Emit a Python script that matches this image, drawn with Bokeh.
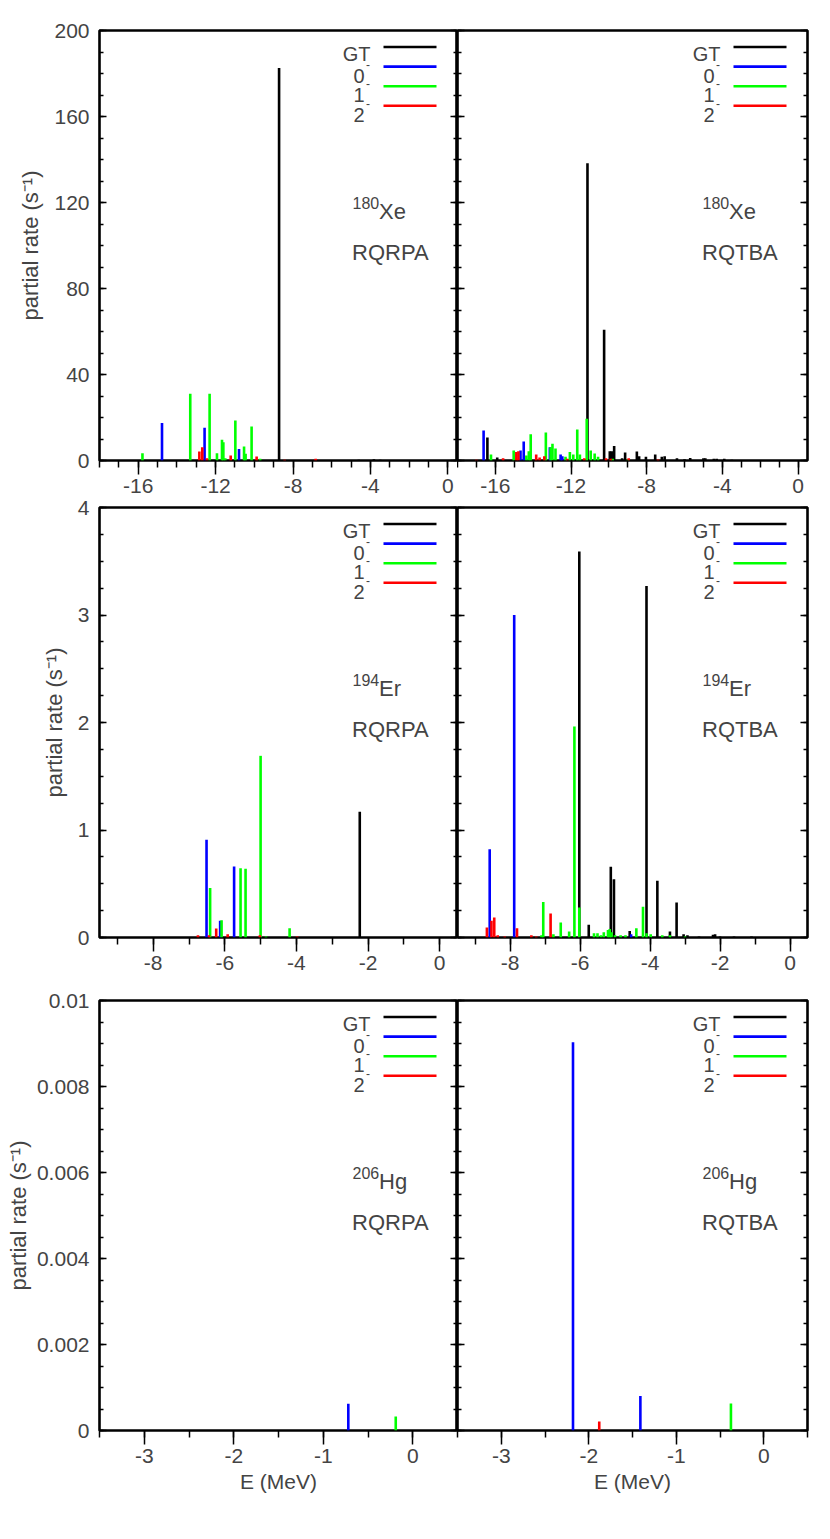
from bokeh.plotting import figure
from bokeh.layouts import column, row
from bokeh.models import FixedTicker, LinearAxis, Label, Range1d, ColumnDataSource
from bokeh.embed import file_html
from bokeh.resources import INLINE

FONT = "Liberation Sans"

# ---------------- data: 180Xe ----------------
xe_qrpa_gt_E = [-8.72, -4.6, -3.82, -3.5]
xe_qrpa_gt_R = [182.6, 0.3, 0.6, 0.3]
xe_qrpa_0_E = [-14.77, -12.57, -10.79]
xe_qrpa_0_R = [17.4, 15.2, 5.4]
xe_qrpa_1_E = [-15.78, -13.31, -12.31, -11.93, -11.67, -11.6, -11.5, -10.98, -10.53, -10.45, -10.14, -9.7]
xe_qrpa_1_R = [3.4, 31.0, 31.0, 3.4, 9.6, 8.5, 1.0, 18.6, 6.5, 3.1, 15.8, 0.8]
xe_qrpa_2_E = [-12.84, -12.69, -12.45, -11.22, -9.88, -8.43, -6.83]
xe_qrpa_2_R = [4.2, 6.2, 1.1, 2.3, 1.9, 0.3, 0.8]

xe_qtba_gt_E = [-16.42, -15.9, -11.13, -10.25, -9.95, -9.85, -9.72, -9.3, -9.14, -8.52, -8.4,
                -8.04, -7.55, -7.2, -7.05, -6.4, -6.0, -5.7, -5.0, -4.9, -4.45, -4.3, -3.9, -3.5]
xe_qtba_gt_R = [10.7, 1.4, 138.3, 60.8, 4.3, 4.3, 6.8, 1.0, 3.7, 4.2, 2.0,
                1.7, 2.8, 1.8, 2.0, 1.0, 0.6, 1.2, 1.0, 1.0, 0.8, 0.8, 0.8, 0.4]
xe_qtba_0_E = [-16.62, -14.67, -14.5, -13.12, -12.55, -12.46]
xe_qtba_0_R = [14.0, 4.6, 8.8, 6.2, 2.8, 2.0]
xe_qtba_1_E = [-16.23, -15.03, -14.36, -14.23, -14.13, -13.33, -13.08, -12.98, -12.82, -12.29,
               -12.06, -11.88, -11.67, -11.53, -11.17, -10.96, -10.75, -10.57, -9.8, -9.0]
xe_qtba_1_R = [2.8, 4.6, 2.3, 4.3, 12.2, 13.0, 6.2, 7.8, 5.6, 1.7,
               4.0, 2.8, 14.4, 2.8, 19.4, 4.6, 3.2, 1.7, 0.8, 0.5]
xe_qtba_2_E = [-17.0, -15.59, -14.89, -14.78, -13.84, -13.66, -13.41, -12.2, -11.3, -10.15, -9.9, -8.95, -7.4]
xe_qtba_2_R = [0.3, 1.0, 3.9, 4.3, 2.8, 1.4, 2.0, 0.8, 1.0, 1.0, 0.8, 1.0, 0.5]

# ---------------- data: 194Er ----------------
er_qrpa_gt_E = [-2.23]
er_qrpa_gt_R = [1.17]
er_qrpa_0_E = [-6.51, -6.13, -5.74]
er_qrpa_0_R = [0.91, 0.155, 0.66]
er_qrpa_1_E = [-6.41, -6.09, -5.56, -5.42, -5.0, -4.85, -4.19]
er_qrpa_1_R = [0.46, 0.16, 0.645, 0.64, 1.69, 0.01, 0.087]
er_qrpa_2_E = [-6.75, -6.44, -6.24, -5.92, -5.02, -3.98]
er_qrpa_2_R = [0.02, 0.02, 0.084, 0.03, 0.02, 0.01]

er_qtba_gt_E = [-6.02, -5.75, -5.12, -5.03, -4.58, -4.1, -3.79, -3.43, -3.24, -3.04, -2.93,
                -2.6, -2.2, -2.14, -2.0, -1.6, -1.1]
er_qtba_gt_R = [3.59, 0.118, 0.658, 0.543, 0.06, 3.27, 0.527, 0.056, 0.326, 0.03, 0.02,
                0.01, 0.025, 0.03, 0.01, 0.01, 0.01]
er_qtba_0_E = [-8.58, -7.88, -4.54]
er_qtba_0_R = [0.82, 3.0, 0.03]
er_qtba_1_E = [-7.1, -7.05, -6.76, -6.55, -6.31, -6.16, -6.02, -5.6, -5.5, -5.4, -5.32, -5.2,
               -5.15, -5.1, -5.0, -4.84, -4.7, -4.39, -4.2, -4.1, -3.98, -3.65, -3.43, -3.0]
er_qtba_1_R = [0.02, 0.33, 0.03, 0.14, 0.056, 1.963, 0.28, 0.04, 0.04, 0.02, 0.05, 0.07,
               0.08, 0.05, 0.02, 0.02, 0.02, 0.087, 0.286, 0.04, 0.03, 0.02, 0.02, 0.01]
er_qtba_2_E = [-8.66, -8.53, -8.45, -8.35, -8.15, -7.8, -7.39, -7.25, -6.84]
er_qtba_2_R = [0.093, 0.155, 0.186, 0.02, 0.01, 0.087, 0.02, 0.01, 0.224]

# ---------------- data: 206Hg ----------------
hg_qrpa_gt_E, hg_qrpa_gt_R = [], []
hg_qrpa_0_E, hg_qrpa_0_R = [-0.72], [0.00062]
hg_qrpa_1_E, hg_qrpa_1_R = [-0.19], [0.000325]
hg_qrpa_2_E, hg_qrpa_2_R = [], []

hg_qtba_gt_E, hg_qtba_gt_R = [], []
hg_qtba_0_E, hg_qtba_0_R = [-2.18, -1.41], [0.00903, 0.0008]
hg_qtba_1_E, hg_qtba_1_R = [-0.375], [0.00063]
hg_qtba_2_E, hg_qtba_2_R = [-1.88], [0.00021]

# ---------------- axes definitions ----------------
legend_labels = ["GT", "0", "1", "2"]
series_colors = ["#000000", "#0000ff", "#00ff00", "#ff0000"]

row1_xrange = (-18, 0.5)
row1_xmajor = [-16, -12, -8, -4, 0]
row1_xminor = [-18, -17, -16, -15, -14, -13, -12, -11, -10, -9, -8, -7, -6, -5, -4, -3, -2, -1, 0]
row1_yrange = (0, 200)
row1_ymajor = [0, 40, 80, 120, 160, 200]
row1_ymajor_labels = ["0", "40", "80", "120", "160", "200"]
row1_yminor = [0, 10, 20, 30, 40, 50, 60, 70, 80, 90, 100, 110, 120, 130, 140, 150, 160, 170, 180, 190, 200]

row2_xrange = (-9.5, 0.5)
row2_xmajor = [-8, -6, -4, -2, 0]
row2_xminor = [-9, -8, -7, -6, -5, -4, -3, -2, -1, 0]
row2_yrange = (0, 4)
row2_ymajor = [0, 1, 2, 3, 4]
row2_ymajor_labels = ["0", "1", "2", "3", "4"]
row2_yminor = [0, 0.25, 0.5, 0.75, 1, 1.25, 1.5, 1.75, 2, 2.25, 2.5, 2.75, 3, 3.25, 3.5, 3.75, 4]

row3_xrange = (-3.5, 0.5)
row3_xmajor = [-3, -2, -1, 0]
row3_xminor = [-3.5, -3, -2.5, -2, -1.5, -1, -0.5, 0, 0.5]
row3_yrange = (0, 0.01)
row3_ymajor = [0, 0.002, 0.004, 0.006, 0.008, 0.01]
row3_ymajor_labels = ["0", "0.002", "0.004", "0.006", "0.008", "0.01"]
row3_yminor = [0, 0.0005, 0.001, 0.0015, 0.002, 0.0025, 0.003, 0.0035, 0.004, 0.0045, 0.005,
               0.0055, 0.006, 0.0065, 0.007, 0.0075, 0.008, 0.0085, 0.009, 0.0095, 0.01]

FH = 430
FW_L = 358
FW_R = 350
OVERLAP = 12
TICK_FS = "21px"


def hidden_axis(ticker):
    ax = LinearAxis(ticker=ticker)
    ax.major_tick_in = 7
    ax.major_tick_out = 0
    ax.minor_tick_in = 4
    ax.minor_tick_out = 0
    ax.major_tick_line_width = 1.5
    ax.minor_tick_line_width = 1.5
    ax.axis_line_color = None
    ax.major_label_text_font_size = "1px"
    ax.major_label_text_color = None
    ax.major_label_standoff = 0
    return ax


def make_panel(series, xr, xmaj, xmin, yr, ymaj, ymaj_lab, ymin, is_left, is_bottom,
               mass, sym, method, b_top, b_bottom):
    fw = FW_L if is_left else FW_R
    p = figure(frame_width=fw, frame_height=FH,
               x_range=Range1d(*xr), y_range=Range1d(*yr),
               x_axis_location=None, y_axis_location=None,
               output_backend="svg", toolbar_location=None,
               min_border_left=99 if is_left else 0,
               min_border_right=0 if is_left else 14,
               min_border_top=b_top, min_border_bottom=b_bottom)
    p.outline_line_color = "black"
    p.outline_line_width = 2.6
    p.outline_line_alpha = 1.0
    p.background_fill_color = "white"
    p.border_fill_color = None
    p.grid.visible = False

    # bottom axis
    xb = LinearAxis(ticker=FixedTicker(ticks=xmaj, minor_ticks=xmin))
    xb.major_tick_out = 14
    xb.major_tick_in = 0
    xb.minor_tick_out = 7
    xb.minor_tick_in = 0
    xb.major_tick_line_width = 1.5
    xb.minor_tick_line_width = 1.5
    xb.axis_line_color = None
    xb.major_label_text_font = FONT
    xb.major_label_text_font_size = TICK_FS
    xb.major_label_standoff = 4
    xb.major_label_overrides = {v: str(v) for v in xmaj}
    if is_bottom:
        xb.axis_label = "E (MeV)"
        xb.axis_label_text_font = FONT
        xb.axis_label_text_font_size = "21px"
        xb.axis_label_text_font_style = "normal"
        xb.axis_label_standoff = 4
    p.add_layout(xb, "below")

    yt = FixedTicker(ticks=ymaj, minor_ticks=ymin)
    if is_left:
        yl = LinearAxis(ticker=yt)
        yl.major_tick_in = 7
        yl.major_tick_out = 0
        yl.minor_tick_in = 4
        yl.minor_tick_out = 0
        yl.major_tick_line_width = 1.5
        yl.minor_tick_line_width = 1.5
        yl.axis_line_color = None
        yl.major_label_text_font = FONT
        yl.major_label_text_font_size = TICK_FS
        yl.major_label_standoff = 10
        yl.major_label_overrides = dict(zip(ymaj, ymaj_lab))
        yl.axis_label = "partial rate (s\u207b\u00b9)"
        yl.axis_label_text_font = FONT
        yl.axis_label_text_font_size = "22px"
        yl.axis_label_text_font_style = "normal"
        yl.axis_label_standoff = 3 if is_bottom else 8
        p.add_layout(yl, "left")
    else:
        p.add_layout(hidden_axis(FixedTicker(ticks=ymaj, minor_ticks=ymin)), "left")
    p.add_layout(hidden_axis(FixedTicker(ticks=ymaj, minor_ticks=ymin)), "right")

    # impulses
    for (E, R), col in zip(series, series_colors):
        if len(E) == 0:
            continue
        src = ColumnDataSource(dict(x=E, y0=[0] * len(E), y1=R))
        p.segment(x0="x", y0="y0", x1="x", y1="y1", source=src,
                  line_color=col, line_width=2.6)

    # helpers: pixel offsets from frame edges -> data
    def px_x(off_from_right):
        return xr[1] - off_from_right * (xr[1] - xr[0]) / fw

    def px_y(off_from_top):
        return yr[1] - off_from_top * (yr[1] - yr[0]) / FH

    # legend
    for i, (lab, col) in enumerate(zip(legend_labels, series_colors)):
        off = 16.5 + 19.6 * i
        ly = px_y(off)
        p.segment(x0=[px_x(74)], y0=[ly], x1=[px_x(21)], y1=[ly], line_color=col, line_width=2.6)
        if i == 0:
            p.add_layout(Label(x=px_x(87), y=px_y(off + 6.5), text=lab, text_align="right",
                               text_baseline="alphabetic", text_font=FONT, text_font_size="20px"))
        else:
            p.add_layout(Label(x=px_x(93), y=px_y(off + 9), text=lab, text_align="right",
                               text_baseline="alphabetic", text_font=FONT, text_font_size="20px"))
            p.add_layout(Label(x=px_x(91.5), y=px_y(off - 2.5), text="-", text_align="left",
                               text_baseline="alphabetic", text_font=FONT, text_font_size="12px"))

    # annotation
    p.add_layout(Label(x=px_x(105), y=px_y(172), text=mass, text_align="left",
                       text_baseline="alphabetic", text_font=FONT, text_font_size="16px"))
    p.add_layout(Label(x=px_x(78.5), y=px_y(180.5), text=sym, text_align="left",
                       text_baseline="alphabetic", text_font=FONT, text_font_size="22px"))
    p.add_layout(Label(x=px_x(105.5), y=px_y(222), text=method, text_align="left",
                       text_baseline="alphabetic", text_font=FONT, text_font_size="22px"))
    return p


xe_l = make_panel([(xe_qrpa_gt_E, xe_qrpa_gt_R), (xe_qrpa_0_E, xe_qrpa_0_R),
                   (xe_qrpa_1_E, xe_qrpa_1_R), (xe_qrpa_2_E, xe_qrpa_2_R)],
                  row1_xrange, row1_xmajor, row1_xminor, row1_yrange, row1_ymajor,
                  row1_ymajor_labels, row1_yminor, True, False, "180", "Xe", "RQRPA", 30, 47)
xe_r = make_panel([(xe_qtba_gt_E, xe_qtba_gt_R), (xe_qtba_0_E, xe_qtba_0_R),
                   (xe_qtba_1_E, xe_qtba_1_R), (xe_qtba_2_E, xe_qtba_2_R)],
                  row1_xrange, row1_xmajor, row1_xminor, row1_yrange, row1_ymajor,
                  row1_ymajor_labels, row1_yminor, False, False, "180", "Xe", "RQTBA", 30, 47)
er_l = make_panel([(er_qrpa_gt_E, er_qrpa_gt_R), (er_qrpa_0_E, er_qrpa_0_R),
                   (er_qrpa_1_E, er_qrpa_1_R), (er_qrpa_2_E, er_qrpa_2_R)],
                  row2_xrange, row2_xmajor, row2_xminor, row2_yrange, row2_ymajor,
                  row2_ymajor_labels, row2_yminor, True, False, "194", "Er", "RQRPA", OVERLAP, 63)
er_r = make_panel([(er_qtba_gt_E, er_qtba_gt_R), (er_qtba_0_E, er_qtba_0_R),
                   (er_qtba_1_E, er_qtba_1_R), (er_qtba_2_E, er_qtba_2_R)],
                  row2_xrange, row2_xmajor, row2_xminor, row2_yrange, row2_ymajor,
                  row2_ymajor_labels, row2_yminor, False, False, "194", "Er", "RQTBA", OVERLAP, 63)
hg_l = make_panel([(hg_qrpa_gt_E, hg_qrpa_gt_R), (hg_qrpa_0_E, hg_qrpa_0_R),
                   (hg_qrpa_1_E, hg_qrpa_1_R), (hg_qrpa_2_E, hg_qrpa_2_R)],
                  row3_xrange, row3_xmajor, row3_xminor, row3_yrange, row3_ymajor,
                  row3_ymajor_labels, row3_yminor, True, True, "206", "Hg", "RQRPA", OVERLAP, 80)
hg_r = make_panel([(hg_qtba_gt_E, hg_qtba_gt_R), (hg_qtba_0_E, hg_qtba_0_R),
                   (hg_qtba_1_E, hg_qtba_1_R), (hg_qtba_2_E, hg_qtba_2_R)],
                  row3_xrange, row3_xmajor, row3_xminor, row3_yrange, row3_ymajor,
                  row3_ymajor_labels, row3_yminor, False, True, "206", "Hg", "RQTBA", OVERLAP, 80)

r1 = row(xe_l, xe_r)
r2 = row(er_l, er_r, styles={"margin-top": "-%dpx" % OVERLAP})
r3 = row(hg_l, hg_r, styles={"margin-top": "-%dpx" % OVERLAP})
layout = column(r1, r2, r3)
open("out.html", "w").write(file_html(layout, INLINE))
